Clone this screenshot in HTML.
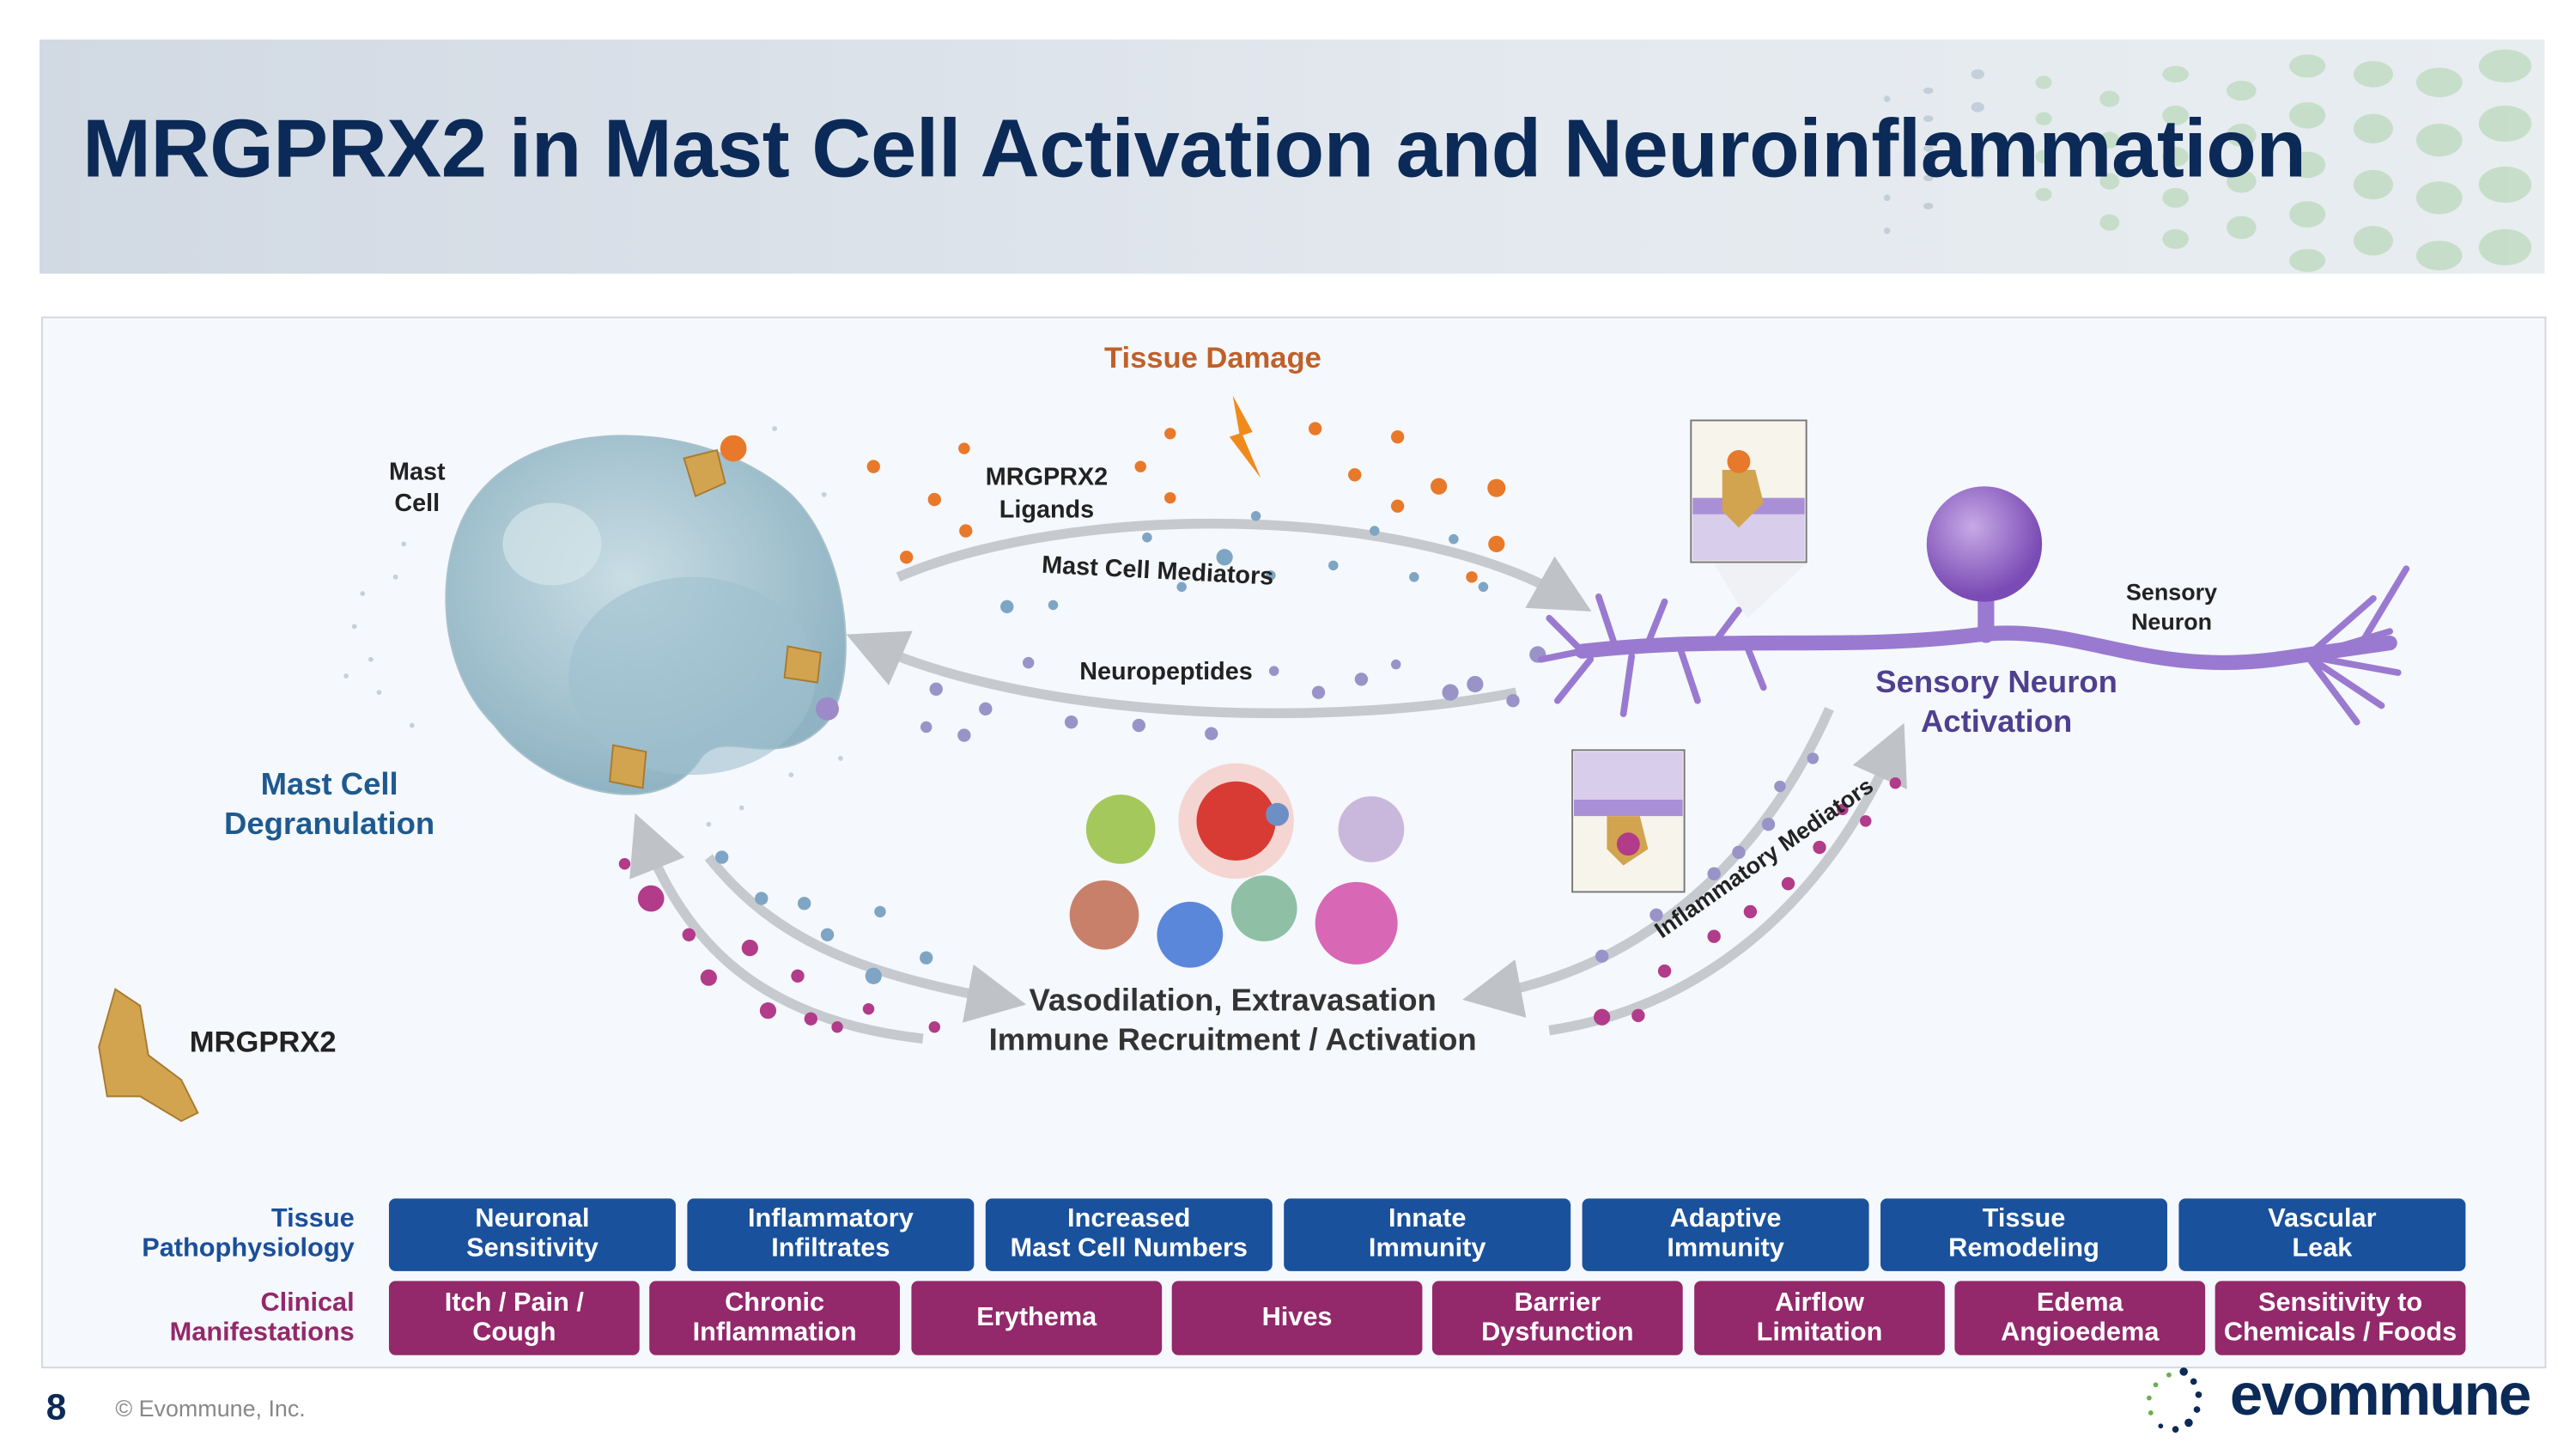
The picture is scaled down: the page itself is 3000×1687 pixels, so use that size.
<!DOCTYPE html>
<html><head><meta charset="utf-8"><style>
html,body{margin:0;padding:0;background:#fff;width:3000px;height:1687px;overflow:hidden}
#s{position:absolute;left:0;top:0;width:1563px;height:879px;transform:scale(1.91939);transform-origin:0 0;font-family:"Liberation Sans",Arial,sans-serif}
.hd{position:absolute;left:24px;top:24px;width:1520px;height:142px;background:linear-gradient(90deg,#d1d9e3,#e4e9ef 60%,#e8edf0)}
.tt{position:absolute;left:50px;top:61px;font-size:50px;font-weight:bold;color:#0c2a57;letter-spacing:-0.3px;white-space:nowrap}
.pn{position:absolute;left:25px;top:192px;width:1518px;height:636px;background:#f5f8fc;border:1px solid #d3d8de}
.b{position:absolute;color:#fff;font-weight:bold;font-size:16px;line-height:18px;text-align:center;display:flex;align-items:center;justify-content:center;border-radius:4px}
.bl{background:#1a519c;top:727px;height:44px;width:174px}
.pu{background:#93286b;top:777px;height:45px;width:152px}
.lb{position:absolute;font-weight:bold;font-size:16px;line-height:18px;text-align:right;width:200px;left:15px}
.t{position:absolute;font-weight:bold;white-space:nowrap}
</style></head><body><div id="s">
<div class="hd"></div>
<svg style="position:absolute;left:0;top:0" width="1563" height="879">
<defs><clipPath id="hc"><rect x="24" y="24" width="1520" height="142"/></clipPath>
<radialGradient id="mc" cx="0.45" cy="0.4" r="0.6"><stop offset="0" stop-color="#c9dde4"/><stop offset="1" stop-color="#8fb3c3"/></radialGradient>
<radialGradient id="nu" cx="0.4" cy="0.35" r="0.6"><stop offset="0" stop-color="#c8a9e6"/><stop offset="1" stop-color="#7a4bb5"/></radialGradient>
<marker id="ar" markerWidth="6" markerHeight="6" refX="3" refY="3" orient="auto"><path d="M0,0L6,3L0,6z" fill="#bfc3c8"/></marker></defs>
<g clip-path="url(#hc)" fill="#b9d9b9" opacity="0.7">
<ellipse cx="1520" cy="40" rx="16" ry="10"/><ellipse cx="1520" cy="75" rx="16" ry="11"/><ellipse cx="1520" cy="112" rx="16" ry="11"/><ellipse cx="1520" cy="150" rx="16" ry="11"/>
<ellipse cx="1480" cy="50" rx="14" ry="9"/><ellipse cx="1480" cy="85" rx="14" ry="10"/><ellipse cx="1480" cy="120" rx="14" ry="10"/><ellipse cx="1480" cy="155" rx="14" ry="9"/>
<ellipse cx="1440" cy="45" rx="12" ry="8"/><ellipse cx="1440" cy="78" rx="12" ry="9"/><ellipse cx="1440" cy="112" rx="12" ry="9"/><ellipse cx="1440" cy="146" rx="12" ry="9"/>
<ellipse cx="1400" cy="40" rx="11" ry="7"/><ellipse cx="1400" cy="70" rx="11" ry="8"/><ellipse cx="1400" cy="100" rx="11" ry="8"/><ellipse cx="1400" cy="130" rx="11" ry="8"/><ellipse cx="1400" cy="158" rx="11" ry="7"/>
<ellipse cx="1360" cy="55" rx="9" ry="6"/><ellipse cx="1360" cy="82" rx="9" ry="7"/><ellipse cx="1360" cy="110" rx="9" ry="7"/><ellipse cx="1360" cy="138" rx="9" ry="7"/>
<ellipse cx="1320" cy="45" rx="8" ry="5"/><ellipse cx="1320" cy="70" rx="8" ry="6"/><ellipse cx="1320" cy="95" rx="8" ry="6"/><ellipse cx="1320" cy="120" rx="8" ry="6"/><ellipse cx="1320" cy="145" rx="8" ry="6"/>
<ellipse cx="1280" cy="60" rx="6" ry="5"/><ellipse cx="1280" cy="85" rx="6" ry="5"/><ellipse cx="1280" cy="110" rx="6" ry="5"/><ellipse cx="1280" cy="135" rx="6" ry="5"/>
<ellipse cx="1240" cy="50" rx="5" ry="4"/><ellipse cx="1240" cy="72" rx="5" ry="4"/><ellipse cx="1240" cy="95" rx="5" ry="4"/><ellipse cx="1240" cy="118" rx="5" ry="4"/>
</g>
<g fill="#bcc8d4" clip-path="url(#hc)" opacity="0.8">
<ellipse cx="1200" cy="45" rx="4" ry="3"/><ellipse cx="1200" cy="65" rx="4" ry="3"/><ellipse cx="1200" cy="85" rx="4" ry="3"/><ellipse cx="1200" cy="105" rx="4" ry="3"/>
<ellipse cx="1170" cy="55" rx="3" ry="2"/><ellipse cx="1170" cy="72" rx="3" ry="2"/><ellipse cx="1170" cy="90" rx="3" ry="2"/><ellipse cx="1170" cy="108" rx="3" ry="2"/><ellipse cx="1170" cy="125" rx="3" ry="2"/>
<ellipse cx="1145" cy="60" rx="2" ry="2"/><ellipse cx="1145" cy="80" rx="2" ry="2"/><ellipse cx="1145" cy="100" rx="2" ry="2"/><ellipse cx="1145" cy="120" rx="2" ry="2"/><ellipse cx="1145" cy="140" rx="2" ry="2"/>
</g>
</svg>
<div class="tt">MRGPRX2 in Mast Cell Activation and Neuroinflammation</div>
<div class="pn"></div>
<svg style="position:absolute;left:0;top:0" width="1563" height="879">
<g fill="none" stroke="#c6cacf" stroke-width="6" marker-end="url(#ar)">
<path d="M545,350 C650,305 850,305 950,362"/>
<path d="M920,420 C820,440 640,440 530,392"/>
<path d="M430,520 C470,570 520,590 605,606"/>
<path d="M560,630 C470,620 420,580 392,510"/>
<path d="M1110,430 C1070,520 1000,585 905,603"/>
<path d="M940,625 C1040,610 1110,540 1148,455"/>
</g>
<g fill="#9aa9b2" opacity="0.5">
<circle cx="215" cy="380" r="1.5"/><circle cx="225" cy="400" r="1.5"/><circle cx="240" cy="350" r="1.5"/><circle cx="230" cy="420" r="1.5"/><circle cx="250" cy="440" r="1.5"/><circle cx="245" cy="330" r="1.5"/><circle cx="470" cy="260" r="1.5"/><circle cx="500" cy="300" r="1.5"/><circle cx="510" cy="460" r="1.5"/><circle cx="450" cy="490" r="1.5"/><circle cx="430" cy="500" r="1.5"/><circle cx="480" cy="470" r="1.5"/><circle cx="220" cy="360" r="1.5"/><circle cx="210" cy="410" r="1.5"/>
</g>
<path d="M290,300 C330,250 430,255 480,300 C520,340 520,420 500,440 C470,470 440,440 425,460 C400,500 330,480 300,440 C260,400 265,330 290,300Z" fill="url(#mc)" stroke="#a7c0cc"/>
<ellipse cx="420" cy="410" rx="75" ry="60" fill="#9fbfce" opacity="0.6"/>
<ellipse cx="335" cy="330" rx="30" ry="25" fill="#d4e5ea" opacity="0.7"/>
<g fill="#d2a44f" stroke="#a87a2e" stroke-width="1">
<path d="M415,278 l20,-5 l5,20 l-18,8z"/><path d="M478,392 l20,4 l-2,18 l-20,-3z"/><path d="M372,452 l20,4 l-2,22 l-20,-4z"/>
<path d="M70,600 l15,10 l5,30 l20,15 l10,20 l-10,5 l-25,-15 l-20,0 l-5,-30z"/>
</g>
<circle cx="445" cy="272" r="8" fill="#e8792a"/>
<circle cx="502" cy="430" r="7" fill="#9c8bc8"/>
<g fill="#e8792a"><circle cx="530" cy="283" r="4"/><circle cx="567" cy="303" r="4"/><circle cx="585" cy="272" r="3.5"/><circle cx="550" cy="338" r="4"/><circle cx="586" cy="322" r="4"/><circle cx="692" cy="283" r="3.5"/><circle cx="710" cy="263" r="3.5"/><circle cx="710" cy="302" r="3.5"/><circle cx="798" cy="260" r="4"/><circle cx="822" cy="288" r="4"/><circle cx="848" cy="265" r="4"/><circle cx="873" cy="295" r="5"/><circle cx="908" cy="296" r="5.5"/><circle cx="848" cy="307" r="4"/><circle cx="908" cy="330" r="5"/><circle cx="893" cy="350" r="3.5"/></g>
<g fill="#7fa5c4"><circle cx="611" cy="368" r="4"/><circle cx="639" cy="367" r="3"/><circle cx="696" cy="326" r="3"/><circle cx="743" cy="338" r="5"/><circle cx="771" cy="349" r="3"/><circle cx="717" cy="356" r="3"/><circle cx="809" cy="343" r="3"/><circle cx="834" cy="322" r="3"/><circle cx="858" cy="350" r="3"/><circle cx="882" cy="327" r="3"/><circle cx="900" cy="356" r="3"/><circle cx="762" cy="313" r="3"/><circle cx="438" cy="520" r="4"/><circle cx="462" cy="545" r="4"/><circle cx="488" cy="548" r="4"/><circle cx="534" cy="553" r="3.5"/><circle cx="502" cy="567" r="4"/><circle cx="562" cy="581" r="4"/><circle cx="530" cy="592" r="5"/></g>
<g fill="#9a93c8"><circle cx="568" cy="418" r="4"/><circle cx="598" cy="430" r="4"/><circle cx="562" cy="441" r="3.5"/><circle cx="585" cy="446" r="4"/><circle cx="624" cy="402" r="3.5"/><circle cx="650" cy="438" r="4"/><circle cx="691" cy="440" r="4"/><circle cx="735" cy="445" r="4"/><circle cx="773" cy="407" r="3"/><circle cx="800" cy="420" r="4"/><circle cx="826" cy="412" r="4"/><circle cx="847" cy="403" r="3"/><circle cx="880" cy="420" r="5"/><circle cx="895" cy="415" r="5"/><circle cx="918" cy="425" r="4"/><circle cx="933" cy="397" r="5"/><circle cx="1100" cy="460" r="3.5"/><circle cx="1080" cy="477" r="3.5"/><circle cx="1073" cy="500" r="4"/><circle cx="1055" cy="517" r="4"/><circle cx="1040" cy="530" r="4"/><circle cx="1005" cy="555" r="4"/><circle cx="972" cy="580" r="4"/></g>
<g fill="#b23b8a"><circle cx="379" cy="524" r="3.5"/><circle cx="395" cy="545" r="8"/><circle cx="418" cy="567" r="4"/><circle cx="455" cy="575" r="5"/><circle cx="430" cy="593" r="5"/><circle cx="484" cy="592" r="4"/><circle cx="466" cy="613" r="5"/><circle cx="492" cy="618" r="4"/><circle cx="508" cy="623" r="3.5"/><circle cx="527" cy="612" r="3.5"/><circle cx="567" cy="623" r="3.5"/><circle cx="1150" cy="475" r="3.5"/><circle cx="1132" cy="498" r="3.5"/><circle cx="1118" cy="491" r="3.5"/><circle cx="1104" cy="514" r="4"/><circle cx="1085" cy="536" r="4"/><circle cx="1062" cy="553" r="4"/><circle cx="1040" cy="568" r="4"/><circle cx="1010" cy="589" r="4"/><circle cx="994" cy="616" r="4"/><circle cx="972" cy="617" r="5"/></g>
<path d="M748,240 L760,262 L754,264 L765,290 L746,265 L752,263Z" fill="#f08a1a"/>
<circle cx="680" cy="503" r="21" fill="#a5c85c"/>
<circle cx="750" cy="498" r="35" fill="#f4b2a5" opacity="0.5"/>
<circle cx="750" cy="498" r="24" fill="#d83b33"/>
<circle cx="775" cy="494" r="7" fill="#6e8fc6"/>
<circle cx="832" cy="503" r="20" fill="#cab8dc"/>
<circle cx="670" cy="555" r="21" fill="#c8806a"/>
<circle cx="722" cy="567" r="20" fill="#5b87db"/>
<circle cx="767" cy="551" r="20" fill="#8fc0a6"/>
<circle cx="823" cy="560" r="25" fill="#d24fa8" opacity="0.85"/>
<g fill="none" stroke="#9a7ad0" stroke-linecap="round">
<path d="M960,395 C1050,385 1120,395 1200,385 C1260,378 1300,410 1380,400 L1450,390" stroke-width="9"/>
<path d="M960,395 l-20,-20 M960,395 l-25,5 M965,400 l-20,25 M980,392 l-10,-30 M990,398 l-5,35 M1000,390 l10,-25 M1020,395 l10,30 M1040,390 l15,-20 M1060,392 l10,25" stroke-width="4"/>
<path d="M1400,398 l40,-35 M1400,398 l50,-15 M1400,398 l55,10 M1400,398 l45,30 M1400,398 l30,40 M1430,395 l30,-50" stroke-width="4"/>
<path d="M1205,385 L1205,365" stroke-width="10"/>
</g>
<circle cx="1204" cy="330" r="35" fill="url(#nu)"/>
<rect x="1026" y="255" width="70" height="86" fill="#f7f4ec" stroke="#777"/>
<rect x="1027" y="302" width="68" height="10" fill="#a990d6"/>
<rect x="1027" y="312" width="68" height="28" fill="#d8cdea"/>
<path d="M1045,285 l20,0 l5,20 l-15,15 l-10,-10z" fill="#d2a44f"/>
<circle cx="1055" cy="280" r="7" fill="#e8792a"/>
<path d="M1040,342 L1060,375 L1096,342z" fill="#eef0f3" opacity="0.9"/>
<rect x="954" y="455" width="68" height="86" fill="#f7f4ec" stroke="#777"/>
<rect x="955" y="485" width="66" height="10" fill="#a990d6"/>
<rect x="955" y="456" width="66" height="29" fill="#d8cdea"/>
<path d="M975,495 l20,0 l5,20 l-15,10 l-10,-10z" fill="#d2a44f"/>
<circle cx="988" cy="512" r="7" fill="#b23b8a"/>
</svg>
<div class="t" style="left:670px;top:207px;font-size:18px;color:#c0602a">Tissue Damage</div>
<div class="t" style="left:236px;top:277px;font-size:15px;line-height:19px;text-align:center;color:#222">Mast<br>Cell</div>
<div class="t" style="left:598px;top:280px;font-size:15px;line-height:20px;text-align:center;color:#222">MRGPRX2<br>Ligands</div>
<div class="t" style="left:632px;top:338px;font-size:15px;color:#222;transform:rotate(3deg)">Mast Cell Mediators</div>
<div class="t" style="left:655px;top:399px;font-size:15px;color:#222">Neuropeptides</div>
<div class="t" style="left:136px;top:465px;font-size:19px;line-height:24px;text-align:center;color:#1e5a8f">Mast Cell<br>Degranulation</div>
<div class="t" style="left:1138px;top:403px;font-size:19px;line-height:24px;text-align:center;color:#503f8f">Sensory Neuron<br>Activation</div>
<div class="t" style="left:1290px;top:350px;font-size:14px;line-height:18px;text-align:center;color:#222">Sensory<br>Neuron</div>
<div class="t" style="left:600px;top:596px;font-size:19px;line-height:24px;text-align:center;color:#333">Vasodilation, Extravasation<br>Immune Recruitment / Activation</div>
<div class="t" style="left:1010px;top:556px;font-size:14px;color:#222;transform:rotate(-35deg);transform-origin:0 100%">Inflammatory Mediators</div>
<div class="t" style="left:115px;top:622px;font-size:18px;color:#222">MRGPRX2</div>
<div class="lb" style="top:731px;color:#1a4f9a">Tissue<br>Pathophysiology</div>
<div class="lb" style="top:782px;color:#93286b">Clinical<br>Manifestations</div>
<div class="b bl" style="left:236px">Neuronal<br>Sensitivity</div>
<div class="b bl" style="left:417px">Inflammatory<br>Infiltrates</div>
<div class="b bl" style="left:598px">Increased<br>Mast Cell Numbers</div>
<div class="b bl" style="left:779px">Innate<br>Immunity</div>
<div class="b bl" style="left:960px">Adaptive<br>Immunity</div>
<div class="b bl" style="left:1141px">Tissue<br>Remodeling</div>
<div class="b bl" style="left:1322px">Vascular<br>Leak</div>
<div class="b pu" style="left:236px">Itch / Pain /<br>Cough</div>
<div class="b pu" style="left:394px">Chronic<br>Inflammation</div>
<div class="b pu" style="left:553px">Erythema</div>
<div class="b pu" style="left:711px">Hives</div>
<div class="b pu" style="left:869px">Barrier<br>Dysfunction</div>
<div class="b pu" style="left:1028px">Airflow<br>Limitation</div>
<div class="b pu" style="left:1186px">Edema<br>Angioedema</div>
<div class="b pu" style="left:1344px">Sensitivity to<br>Chemicals / Foods</div>
<div class="t" style="left:28px;top:841px;font-size:22px;color:#0c2a57">8</div>
<div class="t" style="left:70px;top:846px;font-size:14px;font-weight:normal;color:#888">© Evommune, Inc.</div>
<svg style="position:absolute;left:1298px;top:828px" width="45" height="44">
<g fill="#0c2a57"><circle cx="27" cy="4" r="2.5"/><circle cx="33" cy="10" r="2"/><circle cx="36" cy="18" r="2"/><circle cx="35" cy="27" r="2"/><circle cx="30" cy="35" r="2.5"/><circle cx="22" cy="39" r="2"/><circle cx="13" cy="37" r="1.5"/></g>
<g fill="#6ab04c"><circle cx="18" cy="6" r="1.5"/><circle cx="10" cy="12" r="1.5"/><circle cx="6" cy="20" r="1.5"/><circle cx="7" cy="29" r="1.5"/></g>
</svg>
<div class="t" style="left:1353px;top:825px;font-size:36px;color:#0c2a57;letter-spacing:-1px">evommune</div>
</div></body></html>
